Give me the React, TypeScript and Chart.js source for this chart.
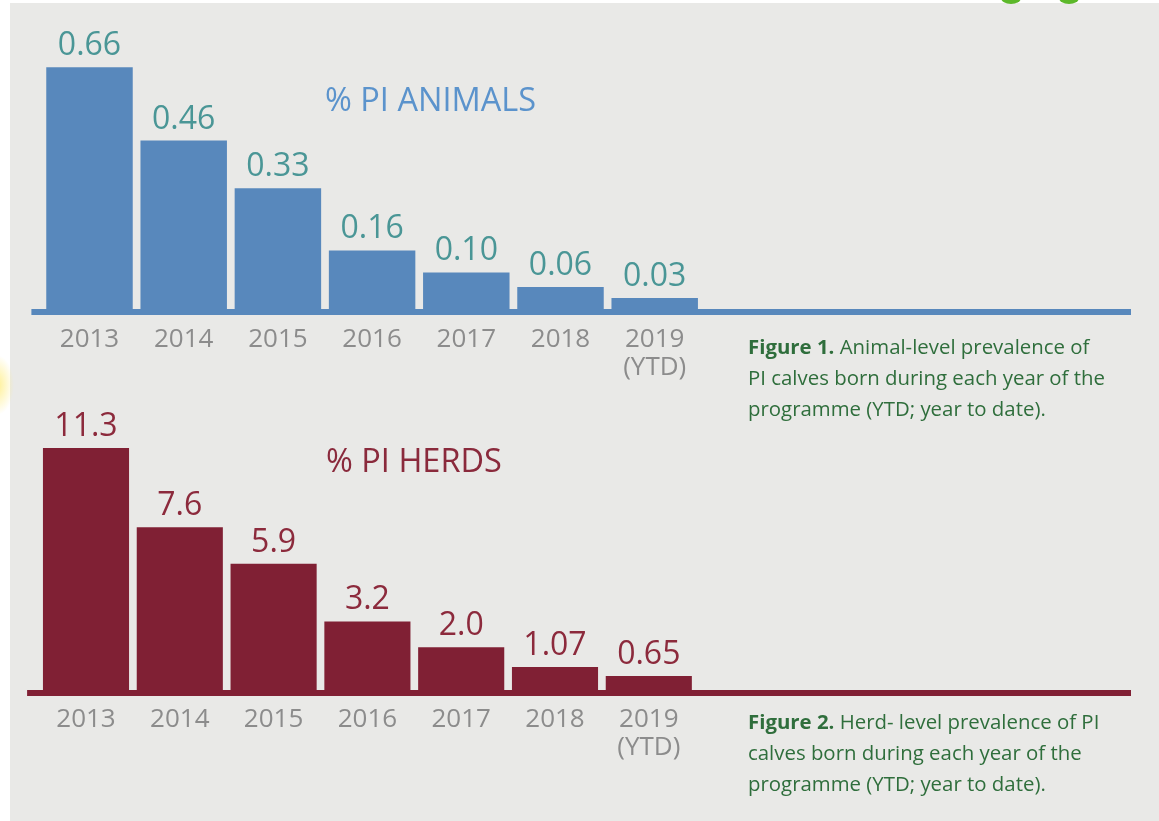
import React, { useEffect, useRef } from 'react';
import { Chart, registerables } from 'chart.js';

Chart.register(...registerables);
Chart.defaults.font.family = '"Open Sans", "DejaVu Sans", sans-serif';

// ---- data ----
const YEARS: (string | string[])[] = ['2013', '2014', '2015', '2016', '2017', '2018', ['2019', '(YTD)']];
const ANIMALS_PCT = [0.66, 0.46, 0.33, 0.16, 0.1, 0.06, 0.03];
const HERDS_PCT = [11.3, 7.6, 5.9, 3.2, 2.0, 1.07, 0.65];
const ANIMALS_TITLE = '% PI ANIMALS';
const HERDS_TITLE = '% PI HERDS';

const fmtAnimals = (v: number) => v.toFixed(2);
const fmtHerds = (v: number) => (v >= 2 ? v.toFixed(1) : v.toFixed(2));

type PanelProps = {
  values: number[];
  color: string;
  labelColor: string;
  title: string;
  titleColor: string;
  titleX: number;
  titleY: number;
  yMax: number;
  fmt: (v: number) => string;
  padLeft: number;
  padRight: number;
  padTop: number;
  top: number;
  height: number;
  axisHeight: number;
  tickPad: number;
  baseLeftExtra: number;
  baseRight: number;
};

function BarPanel(p: PanelProps) {
  const ref = useRef<HTMLCanvasElement | null>(null);
  useEffect(() => {
    if (!ref.current) return;
    const decor = {
      id: 'decor',
      beforeDatasetsDraw(chart: any) {
        const { ctx, chartArea } = chart;
        ctx.save();
        ctx.fillStyle = p.color;
        const x0 = chartArea.left - p.baseLeftExtra;
        ctx.fillRect(x0, chartArea.bottom, p.baseRight - x0, 6);
        ctx.restore();
      },
      afterDatasetsDraw(chart: any) {
        const { ctx } = chart;
        const meta = chart.getDatasetMeta(0);
        ctx.save();
        ctx.fillStyle = p.labelColor;
        ctx.font = '32px "Open Sans", sans-serif';
        ctx.textAlign = 'center';
        ctx.textBaseline = 'alphabetic';
        meta.data.forEach((bar: any, i: number) => {
          ctx.fillText(p.fmt(p.values[i]), bar.x, bar.y - 12);
        });
        ctx.fillStyle = p.titleColor;
        ctx.font = '32.5px "Open Sans", sans-serif';
        ctx.textAlign = 'left';
        ctx.textBaseline = 'middle';
        ctx.fillText(p.title, p.titleX, p.titleY);
        ctx.restore();
      },
    };
    const chart = new Chart(ref.current, {
      type: 'bar',
      data: {
        labels: YEARS,
        datasets: [
          {
            data: p.values,
            backgroundColor: p.color,
            borderWidth: 0,
            categoryPercentage: 1,
            barPercentage: 0.918,
          },
        ],
      },
      options: {
        responsive: false,
        animation: false,
        events: [],
        layout: { padding: { left: p.padLeft, right: p.padRight, top: p.padTop, bottom: 0 } },
        plugins: { legend: { display: false }, tooltip: { enabled: false }, title: { display: false } },
        scales: {
          x: {
            grid: { display: false, drawTicks: false },
            border: { display: false },
            ticks: {
              color: '#8c8c8c',
              font: { size: 26, lineHeight: 1.1 },
              padding: p.tickPad,
              maxRotation: 0,
              autoSkip: false,
            },
            afterFit: (scale: any) => {
              scale.height = p.axisHeight;
            },
          },
          y: { display: false, min: 0, max: p.yMax },
        },
      },
      plugins: [decor],
    });
    return () => chart.destroy();
  }, []);
  return (
    <canvas
      ref={ref}
      width={1159}
      height={p.height}
      style={{ position: 'absolute', left: 0, top: p.top, width: 1159, height: p.height }}
    />
  );
}

const captionStyle: React.CSSProperties = {
  position: 'absolute',
  left: 748,
  width: 410,
  fontFamily: '"Open Sans", sans-serif',
  fontSize: 20.4,
  lineHeight: '31px',
  color: '#2f6e3c',
  whiteSpace: 'nowrap',
};

export default function App() {
  return (
    <div style={{ position: 'absolute', left: 0, top: 0, width: 1159, height: 821, background: '#ffffff', overflow: 'hidden' }}>
      <div style={{ position: 'absolute', left: 10, top: 3, right: 0, bottom: 0, background: '#e9e9e7' }} />
      <div style={{ position: 'absolute', left: 1001, top: -8, width: 20, height: 12, borderRadius: '50%', background: '#5cb82a' }} />
      <div style={{ position: 'absolute', left: 1059, top: -8, width: 20, height: 12, borderRadius: '50%', background: '#5cb82a' }} />
      <div
        style={{
          position: 'absolute',
          left: -20,
          top: 355,
          width: 34,
          height: 60,
          borderRadius: '50%',
          background: 'radial-gradient(closest-side, rgba(255,236,120,0.8), rgba(255,236,120,0))',
        }}
      />
      <BarPanel
        values={ANIMALS_PCT}
        color="#5888bc"
        labelColor="#4a9696"
        title={ANIMALS_TITLE}
        titleColor="#5b93cc"
        titleX={325}
        titleY={102}
        yMax={0.8}
        fmt={fmtAnimals}
        padLeft={42.4}
        padRight={457.2}
        padTop={16}
        top={0}
        height={420}
        axisHeight={111}
        tickPad={16}
        baseLeftExtra={11}
        baseRight={1131}
      />
      <BarPanel
        values={HERDS_PCT}
        color="#802034"
        labelColor="#8c2a3c"
        title={HERDS_TITLE}
        titleColor="#8a2a3c"
        titleX={326}
        titleY={63}
        yMax={13}
        fmt={fmtHerds}
        padLeft={39.1}
        padRight={463.3}
        padTop={11.6}
        top={400}
        height={421}
        axisHeight={131}
        tickPad={15}
        baseLeftExtra={12}
        baseRight={1131}
      />
      <div style={{ ...captionStyle, top: 331 }}>
        <b>Figure 1.</b> Animal-level prevalence of
        <br />
        PI calves born during each year of the
        <br />
        programme (YTD; year to date).
      </div>
      <div style={{ ...captionStyle, top: 706 }}>
        <b>Figure 2.</b> Herd- level prevalence of PI
        <br />
        calves born during each year of the
        <br />
        programme (YTD; year to date).
      </div>
    </div>
  );
}
